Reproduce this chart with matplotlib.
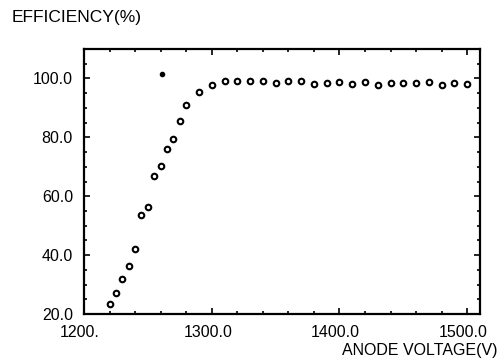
import matplotlib
matplotlib.use("Agg")
import matplotlib.pyplot as plt
from matplotlib.ticker import MultipleLocator, FixedLocator, FixedFormatter
import matplotlib.transforms as mtransforms

plt.rcParams['font.family'] = ['Liberation Sans', 'DejaVu Sans']

voltage = [1220, 1225, 1230, 1235, 1240, 1245, 1250, 1255, 1260, 1265, 1270, 1275,
           1280, 1290, 1300, 1310, 1320, 1330, 1340, 1350, 1360, 1370, 1380, 1390,
           1400, 1410, 1420, 1430, 1440, 1450, 1460, 1470, 1480, 1490, 1500]
efficiency = [23.4, 27.0, 31.9, 36.4, 42.0, 53.6, 56.4, 66.7, 70.2, 76.2, 79.6, 85.6,
              90.9, 95.3, 97.7, 99.0, 99.0, 99.3, 99.1, 98.6, 99.1, 99.1, 98.1, 98.6,
              98.7, 98.0, 98.7, 97.7, 98.5, 98.5, 98.4, 98.9, 97.9, 98.6, 98.0]
outlier_voltage = [1261]
outlier_efficiency = [101.4]

x_ticks = [1200, 1300, 1400, 1500]
x_labels = ["1200.", "1300.0", "1400.0", "1500.0"]
y_ticks = [20, 40, 60, 80, 100]
y_labels = ["20.0", "40.0", "60.0", "80.0", "100.0"]

fig = plt.figure(figsize=(5.02, 3.61), dpi=100)
ax = fig.add_axes([84/502, 1 - 314/361, (480 - 84)/502, (314 - 49)/361])

ax.plot(voltage, efficiency, linestyle='none', marker='o', markersize=4.0,
        markerfacecolor='white', markeredgecolor='black', markeredgewidth=1.5)
ax.plot(outlier_voltage, outlier_efficiency, linestyle='none', marker='o',
        markersize=3, color='black')

ax.set_xlim(1200, 1510)
ax.set_ylim(20, 110)

ax.xaxis.set_major_locator(FixedLocator(x_ticks))
ax.xaxis.set_major_formatter(FixedFormatter(x_labels))
ax.xaxis.set_minor_locator(MultipleLocator(20))
ax.yaxis.set_major_locator(FixedLocator(y_ticks))
ax.yaxis.set_major_formatter(FixedFormatter(y_labels))
ax.yaxis.set_minor_locator(MultipleLocator(5))

ax.tick_params(which='both', direction='in', top=True, right=True,
               width=1.2, color='black')
ax.tick_params(which='major', length=4.5)
ax.tick_params(which='minor', length=2.5)
ax.tick_params(axis='x', which='major', labelsize=11.5, pad=8)
ax.tick_params(axis='y', which='major', labelsize=11.5, pad=8)

for sp in ax.spines.values():
    sp.set_linewidth(1.6)

offset = mtransforms.ScaledTranslation(-4/100, 0, fig.dpi_scale_trans)
for lab in ax.get_xticklabels():
    lab.set_transform(lab.get_transform() + offset)

fig.text(12/502, 1 - 22/361, "EFFICIENCY(%)", fontsize=12.5, ha='left',
         va='baseline')
fig.text(498/502, 1 - 355/361, "ANODE VOLTAGE(V)", fontsize=11.5, ha='right',
         va='baseline')

fig.savefig("out.png", dpi=100)
